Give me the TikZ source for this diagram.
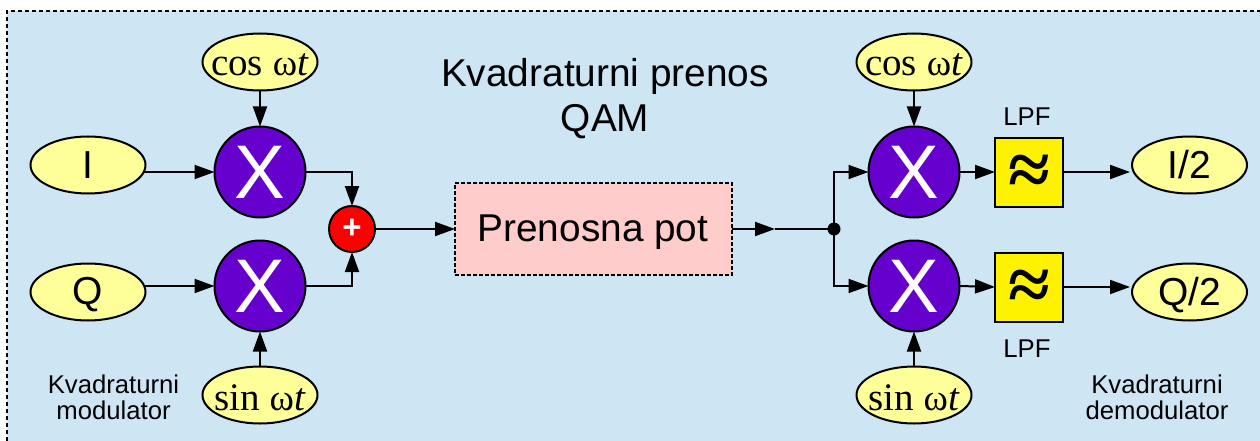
\documentclass[tikz,border=0pt]{standalone}
\usepackage{fontspec}
\setmainfont{Liberation Sans}
\newfontfamily\serifx{Liberation Serif}
\usetikzlibrary{arrows.meta,shapes.geometric}
\definecolor{bgblue}{HTML}{CEE6F4}
\definecolor{oval}{HTML}{FFFF99}
\definecolor{mixer}{HTML}{6600CC}
\definecolor{pinkbox}{HTML}{FFCCCC}
\newcommand{\fs}[1]{\fontsize{#1}{#1}\selectfont}
\newcommand{\wt}{{\fontsize{37}{37}\selectfont ω}\textit{t}}
\newcommand{\tx}[1]{\makebox[0pt][c]{#1}}
\newcommand{\txd}[1]{\makebox[0pt][c]{\raisebox{-3pt}[\height][\depth]{#1}}}
\tikzset{
  every node/.style={inner sep=0pt,outer sep=0pt},
  wire/.style={line width=2pt,-{Triangle[length=20pt,width=14pt]}},
  plainwire/.style={line width=2pt},
  sig/.style={ellipse,draw=black,line width=2pt,fill=oval,minimum width=115pt,minimum height=57pt,font=\fs{39}},
  osc/.style={ellipse,draw=black,line width=2pt,fill=oval,minimum width=115pt,minimum height=57pt,font=\serifx\fs{39}},
  mix/.style={circle,draw=black,line width=2pt,fill=mixer,text=white,minimum size=91pt,font=\fs{76}},
  lpf/.style={rectangle,draw=black,line width=2pt,fill=yellow,minimum width=68pt,minimum height=69pt,font=\serifx\bfseries\fs{76}},
  small/.style={align=center,font=\fs{25.7}},
  big/.style={align=center,font=\fs{38.8}}
}
\begin{document}
\begin{tikzpicture}[x=1pt,y=-1pt]
\useasboundingbox (0,0) rectangle (1260,441);
\fill[bgblue] (7,11) rectangle (1260,441);
\draw[line width=2pt,dash pattern=on 4pt off 3pt] (7,441) -- (7,11) -- (1260,11);
% left
\node[osc] (cos1) at (260,62) {\txd{cos \wt}};
\node[sig] (I) at (88,165) {\tx{I}};
\node[mix] (x1) at (260,172) {\tx{X}};
\node[sig] (Q) at (88,292) {\txd{Q}};
\node[mix] (x2) at (260,286) {\tx{X}};
\node[osc] (sin1) at (260,395) {\txd{sin \wt}};
\node[circle,draw=black,line width=2pt,fill=red,text=white,minimum size=46pt,font=\bfseries\fs{33}] (plus) at (352,229) {\tx{+}};
% centre
\node[rectangle,draw=black,line width=2pt,dash pattern=on 4pt off 2pt,fill=pinkbox,minimum width=277pt,minimum height=92pt] (path) at (593.5,229) {};
\node[big] (pathtext) at (593,232) {Prenosna pot};
\node[big] (title) at (605,98.5) {Kvadraturni prenos\\[6.5pt]QAM};
\coordinate (mid) at (775,229);
\node[circle,fill=black,minimum size=13pt] (junc) at (834,229) {};
% right
\node[osc] (cos2) at (914,62) {\txd{cos \wt}};
\node[mix] (x3) at (914,172) {\tx{X}};
\node[mix] (x4) at (914,286) {\tx{X}};
\node[osc] (sin2) at (914,395) {\txd{sin \wt}};
\node[lpf] (f1) at (1029,172) {\txd{≈}};
\node[lpf] (f2) at (1029,287) {\txd{≈}};
\node[sig] (I2) at (1189.5,165) {\tx{I/2}};
\node[sig] (Q2) at (1189.5,292) {\txd{Q/2}};
% labels
\node[small] (lpfa) at (1027,117) {LPF};
\node[small] (lpfb) at (1027,349) {LPF};
\node[small] (modl) at (113.5,397) {Kvadraturni\\modulator};
\node[small] (deml) at (1157,397) {Kvadraturni\\demodulator};
% connectors
\draw[wire] (cos1) -- (x1);
\draw[wire] (sin1) -- (x2);
\draw[wire] ([xshift=-2pt]x1.west -| I.east) -- (x1.west);
\draw[wire] ([xshift=-2pt]x2.west -| Q.east) -- (x2.west);
\draw[wire] (x1.east) -| (plus.north);
\draw[wire] (x2.east) -| (plus.south);
\draw[wire] (plus.east) -- (path.west);
\draw[wire] (path.east) -- (mid);
\draw[plainwire] (mid) -- (junc.center);
\draw[wire] (junc.center) |- (x3.west);
\draw[wire] (junc.center) |- (x4.west);
\draw[wire] (cos2) -- (x3);
\draw[wire] (sin2) -- (x4);
\draw[wire] (x3.east) -- (f1.west);
\draw[wire] (x4.east) -- (f2.west);
\draw[wire] (f1.east) -- ([xshift=-2pt]f1.east -| I2.west);
\draw[wire] (f2.east) -- ([xshift=-2pt]f2.east -| Q2.west);
\end{tikzpicture}
\end{document}
